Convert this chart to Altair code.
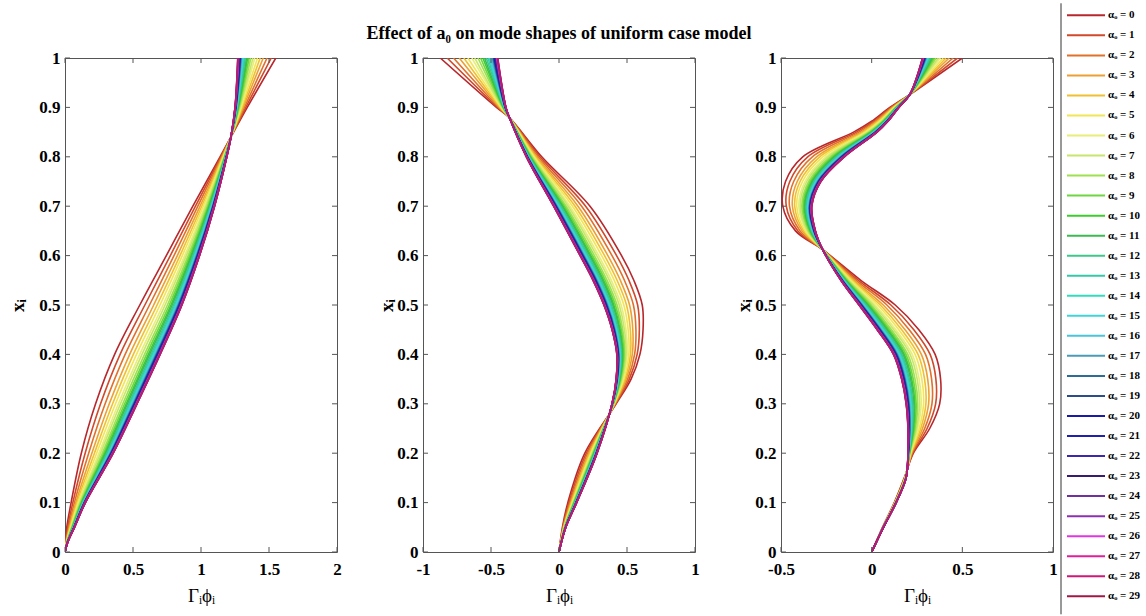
import altair as alt
import pandas as pd

# ---------------- data ----------------
alphas = list(range(31))
colors = ["#b8272c", "#d0492a", "#e0702a", "#eda032", "#f0c030", "#f2e654",
          "#e8ee78", "#c8e66a", "#9ee04e", "#6ed63e", "#3ccc2e", "#3cba52",
          "#3cc88a", "#34c8a8", "#30dcc0", "#40d4d8", "#48c4dc", "#4a9ab8",
          "#2a6e98", "#2c4c8c", "#1a1aa8", "#2020b0", "#3c28b0", "#3a1a70",
          "#7030a0", "#9030b0", "#e038e0", "#e0209a", "#d01878", "#a01848",
          "#b0207a"]
# position of each alpha curve inside the bundle (0 = alpha 0 edge, 1 = alpha 30 edge)
weights = [0.0, 0.12, 0.23, 0.33, 0.41, 0.48, 0.55, 0.60, 0.655, 0.70, 0.74,
           0.77, 0.80, 0.83, 0.85, 0.87, 0.89, 0.905, 0.92, 0.93, 0.94, 0.95,
           0.96, 0.967, 0.974, 0.98, 0.985, 0.99, 0.994, 0.997, 1.0]

# Mode 1
p1_y = [0.0, 0.02, 0.05, 0.1, 0.2, 0.3, 0.4, 0.5, 0.6, 0.7, 0.8, 0.84, 0.9, 1.0]
p1_a0 = [0.0, 0.004, 0.013, 0.045, 0.12, 0.225, 0.365, 0.55, 0.745, 0.94, 1.14, 1.22, 1.34, 1.55]
p1_a30 = [0.0, 0.02, 0.07, 0.15, 0.355, 0.53, 0.70, 0.86, 0.99, 1.10, 1.19, 1.22, 1.25, 1.27]

# Mode 2
p2_y = [0.0, 0.05, 0.1, 0.2, 0.3, 0.35, 0.4, 0.45, 0.5, 0.55, 0.6, 0.7, 0.8, 0.879, 0.9, 1.0]
p2_a0 = [0.0, 0.025, 0.065, 0.19, 0.42, 0.53, 0.595, 0.618, 0.612, 0.55, 0.46, 0.228, -0.127,
         -0.364, -0.46, -0.873]
p2_a30 = [0.0, 0.05, 0.13, 0.28, 0.39, 0.42, 0.425, 0.39, 0.33, 0.25, 0.155, -0.04, -0.24,
          -0.364, -0.39, -0.45]

# Mode 3
p3_y = [0.0, 0.05, 0.1, 0.15, 0.2, 0.25, 0.3, 0.35, 0.4, 0.45, 0.5, 0.55, 0.612,
        0.65, 0.7, 0.75, 0.8, 0.85, 0.872, 0.9, 0.926, 1.0]
p3_a0 = [0.0, 0.06, 0.125, 0.18, 0.23, 0.32, 0.375, 0.38, 0.35, 0.26, 0.13, -0.06, -0.27,
         -0.42, -0.49, -0.475, -0.38, -0.1, 0.0, 0.1, 0.21, 0.5]
p3_a30 = [0.0, 0.065, 0.135, 0.19, 0.2, 0.2, 0.19, 0.165, 0.12, 0.03, -0.07, -0.17, -0.27,
          -0.31, -0.33, -0.28, -0.15, 0.03, 0.09, 0.15, 0.21, 0.28]

y_ticks = [0, 0.1, 0.2, 0.3, 0.4, 0.5, 0.6, 0.7, 0.8, 0.9, 1]
p1_xticks = [0, 0.5, 1, 1.5, 2]
p2_xticks = [-1, -0.5, 0, 0.5, 1]
p3_xticks = [-0.5, 0, 0.5, 1]
p1_xdom = [0, 2]
p2_xdom = [-1, 1]
p3_xdom = [-0.5, 1]

title_text = "Effect of a₀ on mode shapes of uniform case model"
x_title = "Γᵢϕᵢ"
y_title = "xᵢ"
legend_alphas = alphas[:30]
legend_labels = [f"αₒ = {a}" for a in legend_alphas]

# ---------------- chart ----------------
FONT = "Liberation Serif"
W, H = 272, 494
FRAME = "#555555"
color_scale = alt.Scale(domain=alphas, range=colors)


def curves(ys, x0s, x30s):
    rows = []
    for a, w in zip(alphas, weights):
        for y, x0, x30 in zip(ys, x0s, x30s):
            rows.append({"alpha": a, "y": y, "x": x0 + w * (x30 - x0)})
    return pd.DataFrame(rows)


def panel(ys, x0s, x30s, xdom, xticks, ytitle_x, title=None):
    xs = alt.Scale(domain=xdom, nice=False, zero=False)
    ysc = alt.Scale(domain=[0, 1], nice=False, zero=False)
    xaxis = alt.Axis(
        values=xticks, labelExpr="datum.value + ''", ticks=False, domain=False,
        grid=False, labelFlush=False, labelOverlap=False, labelPadding=9,
        title=x_title, titleY=43, titleX=W / 2, titleBaseline="middle",
        titleAlign="center", titleFontWeight="normal", titleFontSize=19)
    yaxis = alt.Axis(
        values=y_ticks, labelExpr="datum.value + ''", ticks=False, domain=False,
        grid=False, labelOverlap=False, labelPadding=5,
        title=y_title, titleX=ytitle_x, titleY=H / 2, titleAngle=-90,
        titleAlign="center", titleBaseline="middle", titleFontWeight="bold",
        titleFontSize=19)
    lines = alt.Chart(curves(ys, x0s, x30s)).mark_line(
        strokeWidth=1.6, interpolate="catmull-rom", clip=True
    ).encode(
        x=alt.X("x:Q", scale=xs, axis=xaxis, title=x_title),
        y=alt.Y("y:Q", scale=ysc, axis=yaxis, title=y_title),
        color=alt.Color("alpha:N", scale=color_scale, legend=None),
        order=alt.Order("y:Q"),
        detail="alpha:N",
    )
    ydf = pd.DataFrame({"t": y_ticks})
    xdf = pd.DataFrame({"t": xticks})
    rk = dict(color=FRAME, strokeWidth=1)
    lt = alt.Chart(ydf).mark_rule(**rk).encode(
        y=alt.Y("t:Q", scale=ysc, axis=yaxis, title=y_title), x=alt.value(0), x2=alt.value(5))
    rt = alt.Chart(ydf).mark_rule(**rk).encode(
        y=alt.Y("t:Q", scale=ysc, axis=yaxis, title=y_title), x=alt.value(W - 5), x2=alt.value(W))
    bt = alt.Chart(xdf).mark_rule(**rk).encode(
        x=alt.X("t:Q", scale=xs, axis=xaxis, title=x_title), y=alt.value(H - 5), y2=alt.value(H))
    tt = alt.Chart(xdf).mark_rule(**rk).encode(
        x=alt.X("t:Q", scale=xs, axis=xaxis, title=x_title), y=alt.value(0), y2=alt.value(5))
    props = dict(width=W, height=H)
    if title is not None:
        props["title"] = alt.TitleParams(
            title, font=FONT, fontSize=18, fontWeight="bold", anchor="middle",
            frame="group", baseline="alphabetic", offset=-8, color="black")
    return alt.layer(lines, lt, rt, bt, tt).properties(**props)


p1 = panel(p1_y, p1_a0, p1_a30, p1_xdom, p1_xticks, -48)
p2 = panel(p2_y, p2_a0, p2_a30, p2_xdom, p2_xticks, -37, title=title_text)
p3 = panel(p3_y, p3_a0, p3_a30, p3_xdom, p3_xticks, -38)

# legend panel (placed right of panel 3)
leg_df = pd.DataFrame({"alpha": legend_alphas, "label": legend_labels})
lsc = alt.Scale(domain=[2.131, 26.79], reverse=True, nice=False, zero=False)
leg_lines = alt.Chart(leg_df).mark_rule(strokeWidth=2).encode(
    y=alt.Y("alpha:Q", scale=lsc, axis=None),
    x=alt.value(-72), x2=alt.value(-34),
    color=alt.Color("alpha:N", scale=color_scale, legend=None),
)
leg_text = alt.Chart(leg_df).mark_text(
    align="left", baseline="middle", font=FONT, fontWeight="bold", fontSize=11,
    color="black").encode(
    y=alt.Y("alpha:Q", scale=lsc, axis=None),
    x=alt.value(-31),
    text="label:N",
)
border_df = pd.DataFrame({"a": [-0.6], "b": [29.9]})
leg_border = alt.Chart(border_df).mark_rule(color="#333333", strokeWidth=1).encode(
    y=alt.Y("a:Q", scale=lsc, axis=None), y2="b:Q", x=alt.value(-78))
legend = alt.layer(leg_border, leg_lines, leg_text).properties(
    width=1, height=H, view=alt.ViewBackground(stroke="transparent"))

chart = alt.hconcat(p1, p2, p3, legend, spacing=86, bounds="flush").properties(
    padding={"left": 7, "top": 2, "right": 0, "bottom": 0},
    background="white",
).configure_view(stroke=FRAME, strokeWidth=1).configure_axis(
    labelFont=FONT, labelFontWeight="bold", labelFontSize=17, labelColor="black",
    titleFont=FONT, titleColor="black"
)

chart.save("out.html", embed_options={"renderer": "svg", "actions": False})
